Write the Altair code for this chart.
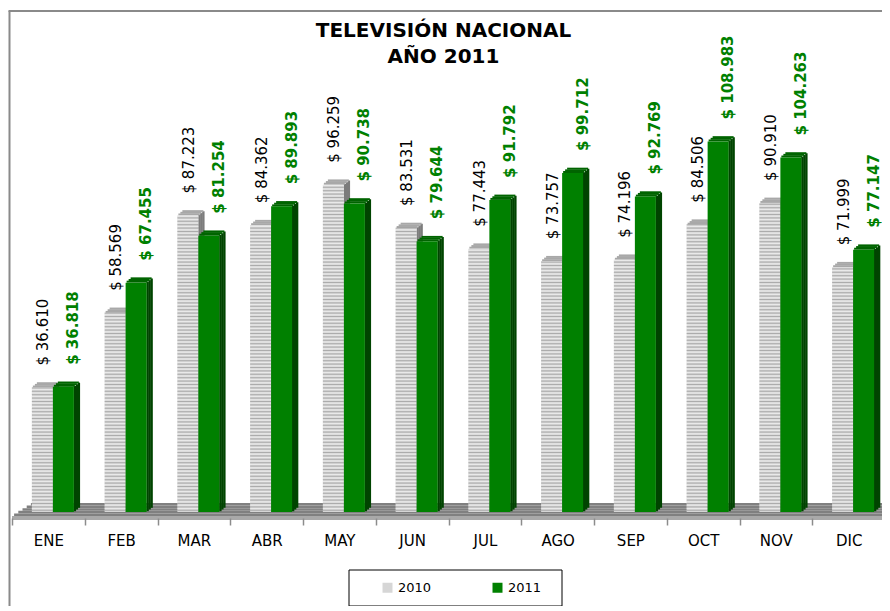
import altair as alt
import pandas as pd

months = ["ENE", "FEB", "MAR", "ABR", "MAY", "JUN", "JUL", "AGO", "SEP", "OCT", "NOV", "DIC"]
v2010 = [36.610, 58.569, 87.223, 84.362, 96.259, 83.531, 77.443, 73.757, 74.196, 84.506, 90.910, 71.999]
v2011 = [36.818, 67.455, 81.254, 89.893, 90.738, 79.644, 91.792, 99.712, 92.769, 108.983, 104.263, 77.147]
series = ["2010", "2011"]
title_lines = ["TELEVISIÓN NACIONAL", "AÑO 2011"]

lab2010 = [f"$ {v:.3f}" for v in v2010]
lab2011 = [f"$ {v:.3f}" for v in v2011]

df = pd.DataFrame({"mes": months, "v2010": v2010, "v2011": v2011,
                   "l2010": lab2010, "l2011": lab2011})
one = pd.DataFrame({"k": [0]})

FONT = "DejaVu Sans"
W, H = 870, 482
BAND_RANGE = [0, 873]
DEPTH_X, DEPTH_Y, NS = 6, 5, 3

xenc = alt.X("mes:N", sort=months,
             scale=alt.Scale(range=BAND_RANGE, paddingInner=0, paddingOuter=0),
             axis=alt.Axis(title=None, labelAngle=0, domain=False, grid=False,
                           tickBand="extent", tickSize=7, tickColor="#8c8c8c",
                           tickWidth=1.5, labelFont=FONT, labelFontSize=15,
                           labelColor="black", labelPadding=8, zindex=1))
yscale = alt.Scale(domain=[-1.765, 140], nice=False, zero=False)

base = alt.Chart(df)
layers = []

# white background panel covering the plot area
layers.append(alt.Chart(one).mark_rect(color="white").encode(
    x=alt.value(-1.5), x2=alt.value(880), y=alt.value(-24), y2=alt.value(600)))

# border lines (top and left of the chart frame)
layers.append(alt.Chart(one).mark_rule(color="#8a8a8a", strokeWidth=2).encode(
    x=alt.value(-2.5), y=alt.value(-25), y2=alt.value(600)))
layers.append(alt.Chart(one).mark_rule(color="#8a8a8a", strokeWidth=2).encode(
    x=alt.value(-3.5), x2=alt.value(880), y=alt.value(-25)))

# title (two centred lines)
for i, line in enumerate(title_lines):
    layers.append(alt.Chart(one).mark_text(
        text=line, font=FONT, fontSize=20, fontWeight="bold", color="black",
        align="center", baseline="middle").encode(
        x=alt.value(431.5), y=alt.value(-5 + 26 * i)))

# floor (3D base)
nf = 5
for k in range(nf):
    y0 = 467 + 13 * k / nf
    y1 = 467 + 13 * (k + 1) / nf
    xl = 21 - 21 * (k + 0.5) / nf
    layers.append(alt.Chart(one).mark_rect(color="#808080").encode(
        x=alt.value(xl), x2=alt.value(880), y=alt.value(y0), y2=alt.value(y1)))
layers.append(alt.Chart(one).mark_rect(color="#a9a9a9").encode(
    x=alt.value(0), x2=alt.value(880), y=alt.value(480), y2=alt.value(484)))

color_scale = alt.Scale(domain=series, range=["#d6d6d6", "#008000"])
legend = alt.Legend(orient="none", legendX=369, legendY=545,
                    direction="horizontal", title=None,
                    symbolType="square", symbolSize=100,
                    symbolStrokeWidth=0, labelFont=FONT,
                    labelFontSize=13, labelColor="black",
                    columnPadding=59, labelOffset=4, padding=0, zindex=1)


def bar3d(field, front_off, side_col, top_col, sname, stripes=False):
    out = []
    right = front_off + 10.5
    for i in range(NS):
        dy = -(i + 0.5) * DEPTH_Y / NS
        out.append(base.mark_bar(color=side_col, width=DEPTH_X / NS + 0.4,
                                 xOffset=right + (i + 0.5) * DEPTH_X / NS,
                                 yOffset=dy, y2Offset=dy).encode(
            x=xenc, y=alt.Y(f"{field}:Q", scale=yscale, axis=None), y2=alt.datum(0)))
    for j in range(NS):
        out.append(base.mark_bar(color=top_col, width=21,
                                 xOffset=front_off + (j + 0.5) * DEPTH_X / NS,
                                 yOffset=-(j + 1) * DEPTH_Y / NS - 0.3,
                                 y2Offset=-j * DEPTH_Y / NS).encode(
            x=xenc, y=alt.Y(f"{field}:Q", scale=yscale, axis=None),
            y2=alt.Y2(f"{field}:Q")))
    out.append(base.transform_calculate(ser=f"'{sname}'").mark_bar(
        width=21, xOffset=front_off).encode(
        x=xenc, y=alt.Y(f"{field}:Q", scale=yscale, axis=None), y2=alt.datum(0),
        color=alt.Color("ser:N", scale=color_scale, legend=legend)))
    if stripes:
        out.append(base.transform_calculate(
            s=f"sequence(0.5, datum.{field}, 1)").transform_flatten(["s"]).mark_tick(
            color="#9a9a9a", thickness=1.0, size=21, xOffset=front_off,
            orient="horizontal").encode(
            x=xenc, y=alt.Y("s:Q", scale=yscale, axis=None)))
        out.append(base.transform_calculate(
            s=f"sequence(1.0, datum.{field}, 1)").transform_flatten(["s"]).mark_tick(
            color="#f4f4f4", thickness=1.0, size=21, xOffset=front_off,
            orient="horizontal").encode(
            x=xenc, y=alt.Y("s:Q", scale=yscale, axis=None)))
    return out


layers += bar3d("v2010", -6, "#7c7c7c", "#a8a8a8", "2010", stripes=True)
layers += bar3d("v2011", 15, "#004400", "#006400", "2011")

# value labels
layers.append(base.mark_text(angle=270, align="left", baseline="middle", font=FONT,
                             fontSize=15, color="black", xOffset=-5, yOffset=-22).encode(
    x=xenc, y=alt.Y("v2010:Q", scale=yscale, axis=None), text="l2010:N"))
layers.append(base.mark_text(angle=270, align="left", baseline="middle", font=FONT,
                             fontSize=15, fontWeight="bold", color="#008000",
                             xOffset=25, yOffset=-22).encode(
    x=xenc, y=alt.Y("v2011:Q", scale=yscale, axis=None), text="l2011:N"))

# legend frame
layers.append(alt.Chart(one).mark_rect(fillOpacity=0, stroke="black", strokeWidth=1).encode(
    x=alt.value(337), x2=alt.value(550), y=alt.value(534), y2=alt.value(570)))

chart = alt.layer(*layers).properties(
    width=W, height=H,
    autosize=alt.AutoSizeParams(type="none"),
    padding={"left": 4, "top": 28, "right": 0, "bottom": 88},
).configure_view(stroke="transparent", strokeWidth=0).configure_axisY(
    domain=False, grid=False, ticks=False, labels=False
).configure_axisX(domain=False, grid=False).configure(background="white")

chart.save("out.html", embed_options={"renderer": "svg", "actions": False})
